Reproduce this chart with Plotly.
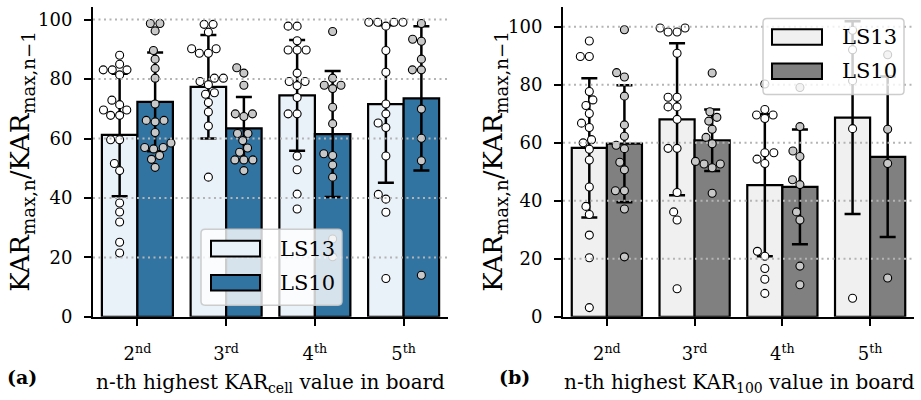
import numpy as np
import plotly.graph_objects as go

W, H = 921, 400

categories = ["2<sup>nd</sup>", "3<sup>rd</sup>", "4<sup>th</sup>", "5<sup>th</sup>"]
series = ["LS13", "LS10"]

# ---- panel (a): KAR_cell ----
a_ls13_mean = [61.2, 77.4, 74.5, 71.6]
a_ls13_std = [20.6, 17.4, 18.6, 26.5]
a_ls10_mean = [72.3, 63.4, 61.5, 73.5]
a_ls10_std = [16.6, 10.6, 21.2, 24.3]

a_ls13_2nd = [88.0, 85.0, 83.1, 83.1, 83.1, 81.4, 72.9, 71.4, 69.6, 69.6, 67.8, 67.8,
              59.6, 59.6, 51.6, 49.2, 38.3, 35.3, 31.9, 25.1, 21.5]
a_ls13_3rd = [98.4, 98.4, 95.8, 90.2, 90.2, 88.7, 88.7, 80.3, 80.3, 79.2, 78.1, 75.4,
              74.9, 72.1, 68.9, 64.2, 47.0]
a_ls13_4th = [97.8, 97.8, 92.9, 89.8, 89.8, 89.8, 82.0, 79.2, 79.2, 77.8, 73.8, 68.3,
              68.3, 54.1, 49.5, 41.3, 36.3]
a_ls13_5th = [99.1, 99.1, 99.1, 99.1, 97.8, 89.6, 82.3, 71.6, 68.3, 65.2, 63.7, 54.1,
              41.2, 39.6, 35.2, 12.9]

a_ls10_2nd = [98.7, 98.7, 96.2, 89.6, 86.7, 83.6, 80.3, 71.6, 66.1, 66.1, 65.6, 62.0,
              58.5, 57.0, 57.0, 56.5, 54.3, 53.0, 50.3]
a_ls10_3rd = [83.8, 82.0, 77.9, 68.3, 68.3, 67.4, 61.7, 61.7, 59.3, 56.8, 55.4, 52.8,
              52.8, 52.8, 49.2]
a_ls10_4th = [96.0, 80.3, 77.9, 77.9, 76.8, 70.5, 65.0, 54.9, 54.3, 51.1, 47.0, 26.2, 20.2]
a_ls10_5th = [98.7, 93.4, 92.7, 86.7, 83.1, 83.1, 69.9, 60.1, 52.5, 14.0]

# ---- panel (b): KAR_100 ----
b_ls13_mean = [58.3, 68.1, 45.4, 68.7]
b_ls13_std = [24.0, 26.2, 24.5, 33.2]
b_ls10_mean = [59.7, 60.9, 44.8, 55.2]
b_ls10_std = [20.2, 10.6, 19.8, 27.7]

b_ls13_2nd = [95.1, 89.8, 89.8, 77.7, 74.8, 72.9, 70.1, 66.8, 65.3, 61.1, 60.0, 57.8,
              54.1, 44.8, 38.1, 35.3, 28.2, 20.4, 3.2]
b_ls13_3rd = [99.6, 99.6, 98.2, 98.2, 90.9, 75.7, 75.7, 72.4, 72.4, 68.1, 58.1, 58.1,
              42.9, 36.2, 33.4, 9.7]
b_ls13_4th = [80.3, 71.5, 69.6, 69.6, 68.4, 56.6, 56.6, 54.4, 52.9, 22.6, 20.9, 16.7,
              13.0, 8.1]
b_ls13_5th = [98.8, 92.1, 81.4, 64.9, 6.4]

b_ls10_2nd = [99.0, 84.2, 82.7, 76.1, 66.2, 62.3, 59.2, 58.0, 53.3, 50.7, 43.5, 43.5,
              37.2, 20.7]
b_ls10_3rd = [84.1, 70.7, 68.8, 67.5, 64.7, 61.9, 59.7, 53.6, 52.7, 52.7, 51.4, 42.6]
b_ls10_4th = [79.1, 65.6, 57.2, 55.3, 47.3, 45.6, 36.2, 33.4, 17.5, 11.1]
b_ls10_5th = [90.4, 64.7, 52.9, 13.4]

y_ticks = [0, 20, 40, 60, 80, 100]

# ---------------- styling / geometry ----------------
FONT = "DejaVu Serif"
Y_TOP, Y_BOT = 7, 325
panels = {
    "a": dict(x0=93, x1=448, ymax=104.3, xa="x", ya="y",
              c13="#e9f1f9", c10="#3274a1", p13="white", p10="#c8c8c8",
              m13=a_ls13_mean, s13=a_ls13_std, m10=a_ls10_mean, s10=a_ls10_std,
              pts13=[a_ls13_2nd, a_ls13_3rd, a_ls13_4th, a_ls13_5th],
              pts10=[a_ls10_2nd, a_ls10_3rd, a_ls10_4th, a_ls10_5th]),
    "b": dict(x0=563, x1=914, ymax=106.9, xa="x2", ya="y2",
              c13="#f0f0f0", c10="#808080", p13="white", p10="#c8c8c8",
              m13=b_ls13_mean, s13=b_ls13_std, m10=b_ls10_mean, s10=b_ls10_std,
              pts13=[b_ls13_2nd, b_ls13_3rd, b_ls13_4th, b_ls13_5th],
              pts10=[b_ls10_2nd, b_ls10_3rd, b_ls10_4th, b_ls10_5th]),
}


def px2x(px):
    return px / W


def px2y(py):
    return 1 - py / H


def swarm(values, sx, sy, d=9.0):
    """Beeswarm offsets (in x data units) computed in pixel space."""
    ys = np.asarray(values, float) * sy
    order = np.argsort(ys, kind="stable")
    placed = []
    out = np.zeros(len(ys))
    for i in order:
        y = ys[i]
        cands = [0.0]
        for (qx, qy) in placed:
            dy = y - qy
            if abs(dy) < d:
                dx = np.sqrt(d * d - dy * dy)
                cands += [qx + dx, qx - dx]
        cands.sort(key=lambda c: (abs(c), c))
        for c in cands:
            if all((c - qx) ** 2 + (y - qy) ** 2 >= d * d - 1e-6 for qx, qy in placed):
                out[i] = c
                placed.append((c, y))
                break
    return out / sx


fig = go.Figure()
xpos = list(range(len(categories)))

for key, p in panels.items():
    sx = (p["x1"] - p["x0"]) / 4.0
    sy = (Y_BOT - Y_TOP) / p["ymax"]
    for name, m, s, col in [(series[0], p["m13"], p["s13"], p["c13"]),
                            (series[1], p["m10"], p["s10"], p["c10"])]:
        fig.add_trace(go.Bar(
            x=xpos, y=m, name=name, xaxis=p["xa"], yaxis=p["ya"],
            marker=dict(color=col, line=dict(color="black", width=2.2)),
            error_y=dict(type="data", array=s, visible=True, color="black",
                         thickness=2.5, width=8),
            showlegend=False))
    for off, pts, fc in [(-0.2, p["pts13"], p["p13"]), (0.2, p["pts10"], p["p10"])]:
        xs, ys = [], []
        for i, vals in enumerate(pts):
            dx = swarm(vals, sx, sy)
            xs += list(i + off + dx)
            ys += list(vals)
        fig.add_trace(go.Scatter(
            x=xs, y=ys, mode="markers", xaxis=p["xa"], yaxis=p["ya"],
            marker=dict(size=8, color=fc, line=dict(color="black", width=1.1)),
            showlegend=False, hoverinfo="skip"))

ydom = [px2y(Y_BOT), px2y(Y_TOP)]
axis_common = dict(showline=True, linecolor="black", linewidth=2, ticks="outside",
                   ticklen=7, tickwidth=1.5, tickcolor="black", showgrid=False,
                   zeroline=False, tickfont=dict(family=FONT, size=18, color="black"))

layout = dict(
    width=W, height=H, margin=dict(l=0, r=0, t=0, b=0),
    plot_bgcolor="white", paper_bgcolor="white",
    barmode="group", bargap=0.2, bargroupgap=0.0,
    font=dict(family=FONT, color="black"),
)
for key, p in panels.items():
    xn = "xaxis" if p["xa"] == "x" else "xaxis2"
    yn = "yaxis" if p["ya"] == "y" else "yaxis2"
    layout[xn] = dict(domain=[px2x(p["x0"]), px2x(p["x1"])], range=[-0.5, 3.5],
                      tickvals=xpos, ticktext=categories, anchor=p["ya"],
                      ticklabelstandoff=13, **axis_common)
    layout[yn] = dict(domain=ydom, range=[0, p["ymax"]], tickvals=y_ticks,
                      anchor=p["xa"], ticklabelstandoff=8, **axis_common)
fig.update_layout(**layout)

shapes = []
# dotted gridlines drawn above the bars
for key, p in panels.items():
    for v in y_ticks[1:]:
        shapes.append(dict(type="line", xref=p["xa"] + " domain", yref=p["ya"],
                           x0=0, x1=1, y0=v, y1=v, layer="above",
                           line=dict(color="#b4b4b4", width=2, dash="2px,3.5px")))


def rounded_box(x0, y0, x1, y1, r=4):
    X = lambda v: px2x(v)
    Y = lambda v: px2y(v)
    return (f"M {X(x0+r)},{Y(y0)} L {X(x1-r)},{Y(y0)} Q {X(x1)},{Y(y0)} {X(x1)},{Y(y0+r)} "
            f"L {X(x1)},{Y(y1-r)} Q {X(x1)},{Y(y1)} {X(x1-r)},{Y(y1)} "
            f"L {X(x0+r)},{Y(y1)} Q {X(x0)},{Y(y1)} {X(x0)},{Y(y1-r)} "
            f"L {X(x0)},{Y(y0+r)} Q {X(x0)},{Y(y0)} {X(x0+r)},{Y(y0)} Z")


legends = {
    "a": dict(box=(201, 235, 342, 313), patch_x=(211, 260), rows=(255, 290), text_x=278),
    "b": dict(box=(763, 19, 904, 97), patch_x=(772, 822), rows=(38, 73), text_x=840),
}
annotations = []
for key, lg in legends.items():
    p = panels[key]
    bx0, by0, bx1, by1 = lg["box"]
    shapes.append(dict(type="path", xref="paper", yref="paper", layer="above",
                       path=rounded_box(bx0, by0, bx1, by1),
                       fillcolor="rgba(255,255,255,0.8)",
                       line=dict(color="rgba(200,200,200,0.9)", width=1.5)))
    for cy, col, name in [(lg["rows"][0], p["c13"], series[0]),
                          (lg["rows"][1], p["c10"], series[1])]:
        shapes.append(dict(type="rect", xref="paper", yref="paper", layer="above",
                           x0=px2x(lg["patch_x"][0]), x1=px2x(lg["patch_x"][1]),
                           y0=px2y(cy + 8), y1=px2y(cy - 8), fillcolor=col,
                           line=dict(color="black", width=2)))
        annotations.append(dict(xref="paper", yref="paper", x=px2x(lg["text_x"]),
                                y=px2y(cy), text=name, showarrow=False, xanchor="left",
                                yanchor="middle", font=dict(family=FONT, size=21)))

# axis titles and panel labels
ytitle = "KAR<sub>max,n</sub>/KAR<sub>max,n−1</sub>"
for cx in (22, 495):
    annotations.append(dict(xref="paper", yref="paper", x=px2x(cx), y=px2y(166),
                            text=ytitle, textangle=-90, showarrow=False,
                            xanchor="center", yanchor="middle",
                            font=dict(family=FONT, size=26)))
annotations.append(dict(xref="paper", yref="paper", x=px2x(270), y=px2y(393),
                        text="n-th highest KAR<sub>cell</sub> value in board",
                        showarrow=False, xanchor="center", yanchor="middle",
                        font=dict(family=FONT, size=20)))
annotations.append(dict(xref="paper", yref="paper", x=px2x(739), y=px2y(393),
                        text="n-th highest KAR<sub>100</sub> value in board",
                        showarrow=False, xanchor="center", yanchor="middle",
                        font=dict(family=FONT, size=20)))
for cx, lab in [(22, "(a)"), (514, "(b)")]:
    annotations.append(dict(xref="paper", yref="paper", x=px2x(cx), y=px2y(387),
                            text=f"<b>{lab}</b>", showarrow=False, xanchor="center",
                            yanchor="middle", font=dict(family=FONT, size=19)))

fig.update_layout(shapes=shapes, annotations=annotations)
fig.write_html("out.html")
